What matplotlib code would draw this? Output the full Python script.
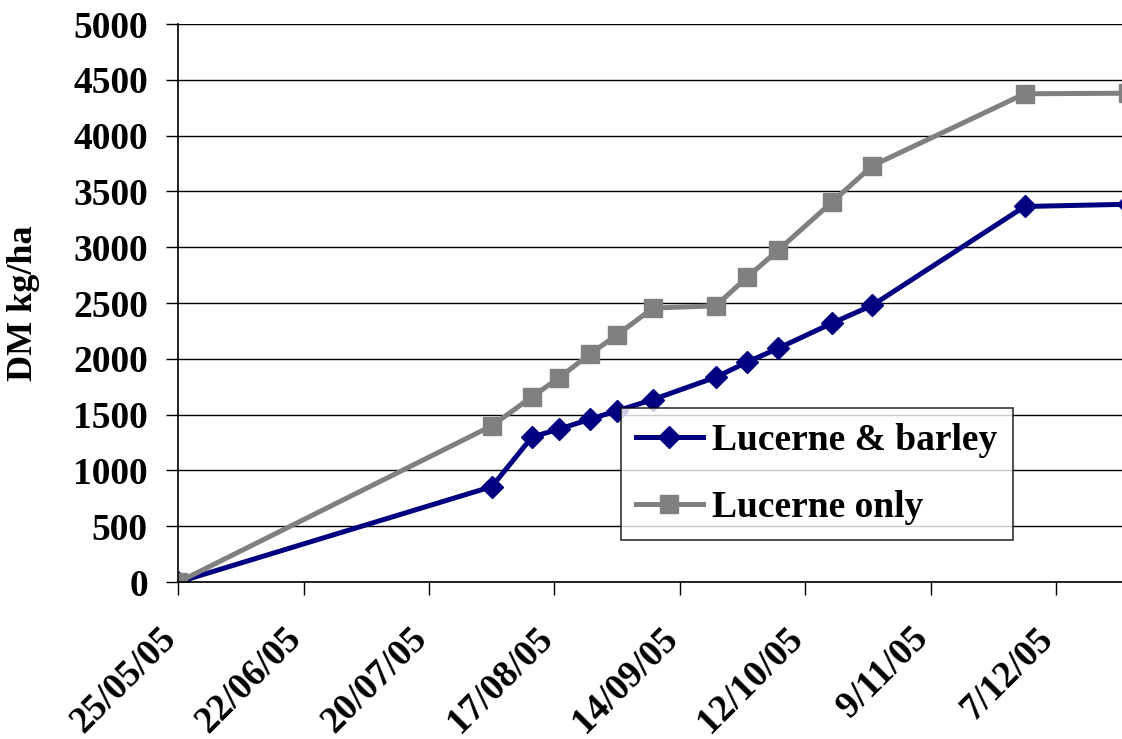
import pandas as pd
import matplotlib
matplotlib.use("Agg")
import matplotlib.pyplot as plt
import matplotlib.dates as mdates
from matplotlib.ticker import FuncFormatter
from matplotlib.transforms import ScaledTranslation

# cumulative dry matter, sampling dates
dates = pd.to_datetime([
    "2005-05-25", "2005-08-03", "2005-08-12", "2005-08-18", "2005-08-25",
    "2005-08-31", "2005-09-08", "2005-09-22", "2005-09-29", "2005-10-06",
    "2005-10-18", "2005-10-27", "2005-11-30", "2005-12-23",
])
lucerne_barley = [0, 855, 1300, 1370, 1460, 1535, 1635, 1835, 1970, 2095,
                  2320, 2480, 3365, 3385]
lucerne_only = [0, 1400, 1660, 1830, 2045, 2215, 2455, 2475, 2730, 2975,
                3405, 3730, 4375, 4380]

tick_dates = pd.date_range("2005-05-25", periods=8, freq="28D")
y_ticks = list(range(0, 5001, 500))

plt.rcParams["font.family"] = ["Liberation Serif", "DejaVu Serif"]
plt.rcParams["font.weight"] = "bold"

fig = plt.figure(figsize=(11.22, 7.39), dpi=100)
ax = fig.add_axes([0.159, 0.2124, 0.842, 0.7551])

ax.plot(dates, lucerne_barley, color="#000080", lw=3.6, marker="D",
        markersize=11, label="Lucerne & barley")
ax.plot(dates, lucerne_only, color="#808080", lw=3.6, marker="s",
        markersize=13, label="Lucerne only")

ax.set_xlim(pd.Timestamp("2005-05-25"), pd.Timestamp("2005-12-22"))
ax.set_ylim(0, 5000)
ax.set_yticks(y_ticks)
ax.set_xticks(tick_dates)


def day_fmt(v, pos):
    d = mdates.num2date(v)
    return f"{d.day}/{d.month:02d}/{d.year % 100:02d}"


ax.xaxis.set_major_formatter(FuncFormatter(day_fmt))

ax.grid(axis="y", color="black", lw=1.0)
ax.set_axisbelow(True)
for s in ["top", "right"]:
    ax.spines[s].set_visible(False)
ax.spines["left"].set_linewidth(1.2)
ax.spines["bottom"].set_linewidth(1.2)

ax.tick_params(axis="y", direction="out", length=9, width=1, pad=13, labelsize=27)
ax.tick_params(axis="x", direction="out", length=9, width=1, pad=6, labelsize=27)
shift = ScaledTranslation(-0.2, -0.18, fig.dpi_scale_trans)
for lbl in ax.get_xticklabels():
    lbl.set_rotation(45)
    lbl.set_ha("right")
    lbl.set_va("top")
    lbl.set_rotation_mode("anchor")
    lbl.set_fontweight("bold")
    lbl.set_transform(lbl.get_transform() + shift)
for lbl in ax.get_yticklabels():
    lbl.set_fontweight("bold")

ax.set_ylabel("DM kg/ha", fontsize=26, fontweight="bold", labelpad=24)

leg = ax.legend(loc="upper left", bbox_to_anchor=(0.468, 0.312), fontsize=27,
                frameon=True, fancybox=False, edgecolor="black",
                handlelength=1.8, labelspacing=0.85, borderpad=0.4,
                borderaxespad=0, handletextpad=0.25)
leg.get_frame().set_linewidth(1.2)
for t in leg.get_texts():
    t.set_fontweight("bold")

fig.savefig("out.png", dpi=100)
